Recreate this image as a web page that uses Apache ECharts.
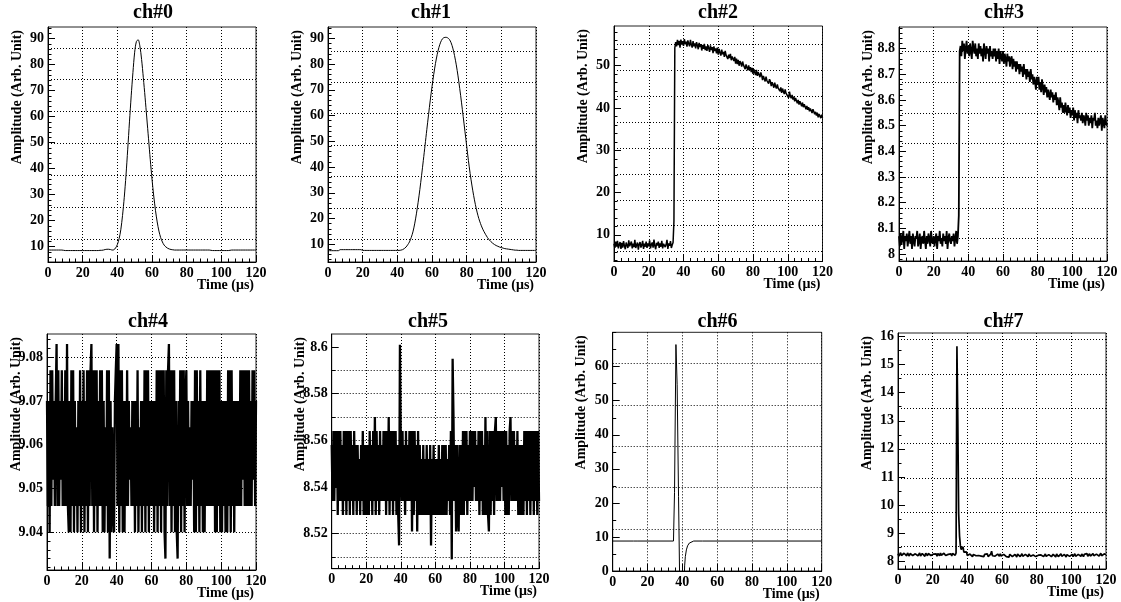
<!DOCTYPE html>
<html>
<head>
<meta charset="utf-8">
<script src="https://cdn.jsdelivr.net/npm/echarts@6.0.0/dist/echarts.min.js"></script>
<style>html,body{margin:0;padding:0;background:#fff}#c{width:1121px;height:602px}</style>
</head>
<body>
<div id="c"></div>
<script>
// ---------------- data ----------------
const titles = ['ch#0', 'ch#1', 'ch#2', 'ch#3', 'ch#4', 'ch#5', 'ch#6', 'ch#7'];
const xName = 'Time (\u03bcs)';
const yName = 'Amplitude (Arb. Unit)';
const xTicks = [0, 20, 40, 60, 80, 100, 120];

// sampling step (us) of the uniformly sampled channels
const timeStep = [1, 1, 0.5, 0.5, 0.5, 0.5, null, 0.5];

const ch0Amp = [
8.7,8.7,8.7,8.7,8.7,8.7,8.7,8.7,8.7,8.6,
8.5,8.5,8.5,8.5,8.5,8.5,8.5,8.5,8.5,8.5,
8.5,8.5,8.5,8.5,8.5,8.5,8.5,8.5,8.5,8.5,
8.6,8.6,8.7,8.9,9.0,9.0,8.9,8.7,8.8,9.5,
10.8,13.0,16.5,22.0,29.0,37.5,47.5,58.0,68.0,77.0,
84.8,88.9,89.6,87.2,82.0,75.0,67.5,59.5,51.5,43.5,
36.0,29.5,24.0,19.5,16.0,13.5,11.8,10.6,9.9,9.4,
9.1,8.9,8.8,8.7,8.7,8.7,8.7,8.7,8.7,8.7,
8.7,8.7,8.7,8.7,8.7,8.7,8.7,8.7,8.7,8.7,
8.7,8.7,8.7,8.7,8.6,8.5,8.5,8.5,8.5,8.5,
8.5,8.5,8.5,8.5,8.5,8.6,8.7,8.7,8.7,8.7,
8.7,8.7,8.7,8.7,8.7,8.7,8.7,8.7,8.7,8.7,8.7];

const ch1Amp = [
7.5,7.5,7.5,7.5,7.5,7.5,7.5,7.9,7.9,7.9,
7.9,7.9,7.9,7.9,7.9,7.9,7.9,7.9,7.9,7.9,
7.6,7.6,7.6,7.6,7.6,7.6,7.6,7.6,7.6,7.6,
7.6,7.6,7.6,7.6,7.6,7.6,7.6,7.6,7.6,7.6,
7.6,7.6,7.7,7.9,8.3,8.9,9.8,10.9,12.6,14.8,
17.9,21.8,26.3,31.3,36.8,42.6,48.5,54.5,60.3,66.0,
71.2,76.0,80.2,83.7,86.5,88.5,89.8,90.3,90.4,90.2,
89.6,88.3,86.2,83.3,79.7,75.4,70.5,65.2,59.6,53.9,
48.2,42.6,37.5,33.0,29.0,25.5,22.5,20.0,18.0,16.3,
14.9,13.7,12.6,11.7,11.0,10.4,9.9,9.5,9.2,8.9,
8.7,8.5,8.3,8.2,8.1,8.0,7.9,7.8,7.7,7.7,
7.6,7.6,7.6,7.6,7.6,7.6,7.6,7.6,7.6,7.6,7.6];

const ch2Amp = [
7.9,6.9,8.4,7.2,8.6,6.8,7.7,8.3,6.7,8.1,
7.0,8.5,7.4,6.6,8.2,7.8,6.9,8.7,7.3,7.5,
8.4,6.8,7.9,7.1,8.8,6.9,7.6,8.2,6.5,7.8,
8.3,7.0,7.6,8.6,6.7,7.9,7.2,8.4,6.9,8.0,
7.3,8.7,6.8,7.7,8.2,7.0,8.9,7.4,6.6,8.1,
7.5,8.4,6.9,8.0,7.2,8.6,6.8,7.9,8.3,7.1,
7.7,8.8,6.7,8.0,7.4,8.5,6.9,7.6,8.2,13.3,
54.2,55.6,54.6,56.1,54.9,55.9,54.3,56.2,55.0,55.8,
54.7,56.3,55.1,55.7,54.5,56.0,55.2,54.6,56.1,55.0,
54.3,55.8,54.6,55.3,54.1,55.6,54.8,53.9,55.4,54.4,
55.1,53.6,54.9,54.0,55.2,53.7,54.6,53.5,54.9,54.2,
53.3,54.8,53.7,54.4,53.0,54.6,53.5,54.1,52.9,54.3,
52.6,54.0,53.1,52.4,53.8,52.7,53.3,52.1,53.5,52.5,
52.9,51.6,52.6,51.8,52.8,51.3,52.2,51.9,51.1,52.1,
50.5,51.7,50.4,51.4,50.0,51.1,50.6,49.8,51.0,50.2,
50.5,49.2,50.3,49.6,48.9,50.1,49.0,49.7,48.5,49.5,
48.1,49.2,48.4,47.8,49.0,47.6,48.5,47.9,47.3,48.4,
47.7,46.6,47.6,46.9,46.3,47.4,46.5,46.9,45.8,46.8,
46.3,45.2,46.1,45.5,44.8,46.0,45.1,44.6,45.6,44.7,
45.0,44.0,44.9,43.6,44.6,43.9,43.3,44.4,43.5,43.8,
43.6,42.4,43.9,42.8,42.3,43.1,42.0,42.7,41.6,42.4,
42.2,41.1,41.9,40.8,41.6,41.0,40.4,41.3,40.2,40.9,
40.8,39.7,40.5,39.6,40.2,39.2,39.9,39.5,38.8,39.7,
39.4,38.5,39.1,38.2,38.9,37.8,38.6,38.1,37.6,38.4,
37.7];

const ch3Amp = [
8.07,8.03,8.08,8.04,8.06,8.09,8.02,8.07,8.05,8.08,
8.03,8.06,8.09,8.04,8.07,8.02,8.08,8.05,8.03,8.07,
8.06,8.09,8.03,8.05,8.08,8.02,8.06,8.07,8.04,8.09,
8.05,8.02,8.07,8.04,8.08,8.06,8.03,8.09,8.05,8.04,
8.07,8.03,8.06,8.08,8.02,8.07,8.05,8.09,8.04,8.06,
8.03,8.08,8.05,8.07,8.04,8.09,8.02,8.06,8.08,8.05,
8.04,8.07,8.05,8.08,8.03,8.06,8.09,8.04,8.07,8.15,
8.79,8.81,8.77,8.83,8.79,8.82,8.76,8.80,8.83,8.78,
8.81,8.77,8.82,8.79,8.76,8.83,8.80,8.78,8.82,8.77,
8.80,8.76,8.82,8.78,8.81,8.77,8.80,8.75,8.82,8.79,
8.76,8.81,8.78,8.80,8.75,8.81,8.77,8.79,8.76,8.80,
8.77,8.80,8.75,8.79,8.76,8.80,8.74,8.79,8.77,8.75,
8.79,8.74,8.78,8.76,8.73,8.78,8.75,8.77,8.73,8.76,
8.77,8.72,8.76,8.73,8.75,8.71,8.75,8.72,8.74,8.70,
8.74,8.71,8.73,8.69,8.74,8.70,8.72,8.68,8.72,8.69,
8.71,8.67,8.72,8.68,8.70,8.66,8.69,8.67,8.64,8.69,
8.66,8.69,8.64,8.67,8.63,8.68,8.65,8.62,8.66,8.63,
8.65,8.61,8.64,8.62,8.60,8.64,8.61,8.63,8.59,8.62,
8.60,8.63,8.58,8.61,8.59,8.56,8.61,8.57,8.59,8.55,
8.58,8.55,8.59,8.56,8.54,8.58,8.55,8.57,8.53,8.56,
8.54,8.57,8.52,8.56,8.53,8.55,8.51,8.56,8.53,8.54,
8.52,8.55,8.51,8.54,8.53,8.50,8.55,8.52,8.54,8.50,
8.53,8.51,8.54,8.49,8.53,8.52,8.55,8.50,8.52,8.49,
8.53,8.50,8.52,8.54,8.48,8.53,8.51,8.49,8.54,8.51,
8.50];

const ch4Amp = [
9.070,9.046,9.070,9.040,9.077,9.046,9.077,9.052,9.070,9.046,
9.070,9.083,9.046,9.077,9.046,9.070,9.052,9.077,9.046,9.070,
9.046,9.077,9.046,9.083,9.046,9.040,9.070,9.040,9.077,9.046,
9.077,9.040,9.070,9.046,9.064,9.040,9.070,9.046,9.077,9.040,
9.070,9.046,9.077,9.040,9.070,9.046,9.077,9.040,9.077,9.046,
9.077,9.083,9.046,9.077,9.040,9.077,9.046,9.077,9.040,9.070,
9.046,9.077,9.046,9.077,9.040,9.070,9.040,9.064,9.046,9.077,
9.040,9.077,9.034,9.070,9.040,9.064,9.046,9.040,9.070,9.077,
9.083,9.046,9.083,9.040,9.077,9.046,9.077,9.040,9.070,9.040,
9.070,9.046,9.077,9.046,9.070,9.052,9.064,9.046,9.070,9.046,
9.070,9.040,9.070,9.046,9.077,9.040,9.064,9.046,9.070,9.040,
9.070,9.046,9.077,9.040,9.077,9.046,9.077,9.040,9.070,9.046,
9.070,9.046,9.070,9.040,9.070,9.046,9.077,9.040,9.077,9.046,
9.077,9.040,9.077,9.046,9.077,9.040,9.034,9.077,9.046,9.077,
9.083,9.046,9.077,9.040,9.077,9.046,9.077,9.040,9.070,9.040,
9.034,9.070,9.046,9.077,9.040,9.077,9.046,9.077,9.040,9.070,
9.077,9.046,9.070,9.046,9.064,9.046,9.070,9.052,9.070,9.040,
9.077,9.040,9.077,9.046,9.070,9.040,9.077,9.046,9.070,9.040,
9.070,9.040,9.070,9.046,9.077,9.046,9.077,9.046,9.077,9.046,
9.077,9.046,9.077,9.040,9.077,9.040,9.077,9.046,9.077,9.040,
9.070,9.040,9.070,9.046,9.070,9.040,9.070,9.040,9.077,9.046,
9.077,9.040,9.077,9.046,9.070,9.040,9.070,9.046,9.070,9.046,
9.070,9.046,9.077,9.046,9.077,9.052,9.077,9.046,9.077,9.046,
9.077,9.046,9.077,9.046,9.070,9.046,9.077,9.052,9.077,9.046,
9.070];

const ch5Amp = [
8.558,8.534,8.564,8.534,8.564,8.540,8.564,8.528,8.564,8.534,
8.564,8.534,8.558,8.528,8.564,8.534,8.564,8.528,8.564,8.534,
8.564,8.528,8.564,8.534,8.558,8.528,8.564,8.534,8.558,8.528,
8.558,8.534,8.552,8.528,8.558,8.534,8.564,8.528,8.558,8.528,
8.558,8.528,8.558,8.528,8.564,8.534,8.558,8.528,8.564,8.534,
8.570,8.528,8.564,8.534,8.558,8.528,8.564,8.534,8.558,8.534,
8.564,8.534,8.564,8.528,8.564,8.534,8.570,8.528,8.564,8.534,
8.564,8.528,8.564,8.534,8.564,8.528,8.558,8.528,8.515,8.601,
8.558,8.534,8.564,8.534,8.558,8.528,8.564,8.534,8.558,8.534,
8.564,8.534,8.564,8.521,8.564,8.528,8.564,8.534,8.558,8.521,
8.564,8.528,8.558,8.528,8.552,8.528,8.558,8.528,8.552,8.528,
8.558,8.528,8.552,8.528,8.558,8.515,8.552,8.528,8.558,8.528,
8.552,8.528,8.552,8.528,8.558,8.528,8.552,8.528,8.558,8.528,
8.558,8.528,8.558,8.528,8.552,8.534,8.558,8.528,8.564,8.509,
8.595,8.570,8.534,8.558,8.521,8.558,8.528,8.521,8.558,8.528,
8.558,8.528,8.564,8.528,8.564,8.534,8.564,8.528,8.558,8.534,
8.564,8.534,8.564,8.534,8.564,8.540,8.564,8.534,8.558,8.534,
8.564,8.528,8.564,8.534,8.564,8.528,8.558,8.528,8.570,8.528,
8.564,8.528,8.521,8.564,8.528,8.564,8.534,8.564,8.528,8.564,
8.570,8.534,8.564,8.534,8.564,8.534,8.564,8.540,8.564,8.534,
8.564,8.528,8.564,8.528,8.558,8.528,8.564,8.570,8.534,8.564,
8.534,8.564,8.534,8.558,8.534,8.564,8.528,8.558,8.528,8.558,
8.528,8.558,8.528,8.564,8.534,8.564,8.528,8.564,8.534,8.564,
8.528,8.564,8.534,8.564,8.528,8.564,8.534,8.564,8.528,8.564,
8.534];

// ch#6 is sampled irregularly: explicit times
const ch6Time = [0, 12, 13, 14, 34.9, 35.4, 35.5, 36.1, 36.3, 36.9, 37.0, 37.6, 37.8, 38.1, 38.5, 41.0, 41.3, 41.7, 42.3, 43.0, 44.0, 45.0, 46.5, 51.5, 52.0, 52.5, 120];
const ch6Amp  = [8.8, 8.8, 8.6, 8.8, 8.8, 9.3, 23.1, 23.1, 66.5, 66.5, 54.7, 54.7, 21.9, 21.9, -5, -5, 1.5, 4.2, 6.2, 7.4, 8.2, 8.6, 8.8, 8.8, 9.1, 8.8, 8.8];

const ch7Amp = [
8.27,8.19,8.25,8.31,8.21,8.27,8.18,8.29,8.22,8.26,
8.20,8.30,8.24,8.19,8.28,8.22,8.31,8.21,8.26,8.18,
8.27,8.22,8.29,8.20,8.26,8.30,8.19,8.25,8.28,8.21,
8.26,8.18,8.29,8.23,8.20,8.28,8.22,8.31,8.21,8.27,
8.19,8.26,8.29,8.21,8.27,8.18,8.28,8.23,8.20,8.30,
8.22,8.27,8.19,8.29,8.24,8.21,8.28,8.20,8.25,8.30,
8.21,8.27,8.19,8.28,8.23,8.29,8.22,8.30,15.65,13.05,
9.70,8.90,8.55,8.42,8.38,8.52,8.33,8.40,8.28,8.34,
8.21,8.28,8.18,8.26,8.20,8.27,8.17,8.25,8.19,8.28,
8.20,8.16,8.26,8.21,8.18,8.27,8.19,8.25,8.21,8.17,
8.25,8.18,8.23,8.27,8.17,8.24,8.19,8.26,8.36,8.20,
8.16,8.25,8.19,8.24,8.17,8.26,8.20,8.18,8.27,8.19,
8.23,8.16,8.25,8.19,8.27,8.17,8.24,8.20,8.15,8.25,
8.19,8.26,8.17,8.23,8.18,8.25,8.20,8.16,8.26,8.19,
8.24,8.17,8.22,8.27,8.18,8.23,8.16,8.25,8.19,8.24,
8.17,8.26,8.20,8.18,8.25,8.15,8.23,8.19,8.26,8.17,
8.24,8.18,8.22,8.27,8.16,8.23,8.19,8.25,8.17,8.22,
8.26,8.18,8.23,8.16,8.24,8.19,8.27,8.17,8.22,8.25,
8.18,8.23,8.16,8.26,8.20,8.17,8.24,8.19,8.27,8.18,
8.23,8.17,8.25,8.19,8.16,8.24,8.20,8.26,8.18,8.23,
8.19,8.25,8.17,8.23,8.27,8.18,8.22,8.16,8.25,8.19,
8.24,8.18,8.26,8.20,8.17,8.25,8.19,8.23,8.28,8.18,
8.23,8.27,8.19,8.25,8.18,8.28,8.20,8.24,8.17,8.26,
8.21,8.28,8.19,8.25,8.29,8.20,8.26,8.18,8.27,8.22,
8.24];

const amps = [ch0Amp, ch1Amp, ch2Amp, ch3Amp, ch4Amp, ch5Amp, ch6Amp, ch7Amp];

// y axis ranges and tick labels
const yMin = [4.1, 3.1, 3.7, 7.973, 9.0314, 8.505, 0, 7.73];
const yMax = [94.5, 94.4, 59.4, 8.884, 9.0853, 8.6056, 70.1, 16.12];
const yMajor = [
  [10, 20, 30, 40, 50, 60, 70, 80, 90],
  [10, 20, 30, 40, 50, 60, 70, 80, 90],
  [10, 20, 30, 40, 50],
  [8, 8.1, 8.2, 8.3, 8.4, 8.5, 8.6, 8.7, 8.8],
  [9.04, 9.05, 9.06, 9.07, 9.08],
  [8.52, 8.54, 8.56, 8.58, 8.6],
  [0, 10, 20, 30, 40, 50, 60],
  [8, 9, 10, 11, 12, 13, 14, 15, 16]
];
const yMinorStep = [2, 2, 2, 0.02, 0.002, 0.01, 5, 0.5];
// horizontal (dotted) grid lines as drawn in the original
const yGrid = [
  [12.8, 25.1, 37.4, 49.7, 62.0, 74.3, 86.5],
  [11.95, 24.1, 36.3, 48.5, 60.7, 72.85, 85.0],
  [6.06, 12.18, 18.3, 24.42, 30.54, 36.66, 42.78, 48.9, 55.02],
  [8.060, 8.181, 8.305, 8.426, 8.547, 8.669, 8.791],
  [9.0341, 9.0402, 9.0463, 9.0523, 9.0584, 9.0645, 9.0706, 9.0767, 9.0828],
  [8.5093, 8.5214, 8.5336, 8.5457, 8.5578, 8.5700, 8.5821, 8.5942],
  [12.2, 24.5, 36.6, 48.8, 61.0],
  [8.536, 9.744, 10.964, 12.209, 13.441, 14.673, 15.905]
];

// ---------------- layout / style ----------------
const frames = [
  [48, 27, 208, 235], [328, 27, 208, 235], [614, 26, 208.5, 235.5], [899, 27, 208, 234],
  [47, 334, 209, 236], [331.7, 334, 207.3, 234.7], [612.7, 332.3, 209, 238.7], [898, 333, 208, 236]
];
const titleX = [153, 431, 718, 1004, 148, 428, 717.5, 1003.5];
const titleY = [3, 3, 3, 3, 312, 312, 312, 312];
const lineW = [1, 1, 1.5, 1.8, 2.3, 2.3, 1, 1.7];
const lineSmooth = [0.3, 0.3, false, false, false, false, false, false];

const FONT = '"Liberation Serif", "DejaVu Serif", serif';
const BLACK = '#000';

function minorTicks(min, max, step) {
  const out = [];
  for (let k = Math.ceil(min / step - 1e-9); k * step <= max + 1e-9; k++) {
    out.push(+(k * step).toFixed(6));
  }
  return out;
}

function seriesData(i) {
  if (i === 6) return ch6Time.map((t, k) => [t, ch6Amp[k]]);
  return amps[i].map((v, k) => [+(k * timeStep[i]).toFixed(3), v]);
}

const option = {
  animation: false,
  backgroundColor: '#fff',
  title: [], grid: [], xAxis: [], yAxis: [], series: []
};

for (let i = 0; i < 8; i++) {
  const [l, t, w, h] = frames[i];
  option.grid.push({
    left: l, top: t, width: w, height: h,
    show: true, borderColor: '#222', borderWidth: 1,
    containLabel: false, outerBoundsMode: 'none'
  });
  option.title.push({
    text: titles[i], left: titleX[i], top: titleY[i], textAlign: 'center', padding: 0,
    textStyle: { fontFamily: FONT, fontWeight: 'bold', fontSize: 20, color: BLACK }
  });
  option.xAxis.push({
    gridIndex: i, type: 'value', min: xTicks[0], max: xTicks[xTicks.length - 1], interval: 20,
    axisLine: { show: true, lineStyle: { color: BLACK, width: 1 } },
    axisTick: { show: true, inside: true, length: 7, lineStyle: { color: BLACK } },
    minorTick: { show: true, splitNumber: 5, length: 3.5, lineStyle: { color: BLACK } },
    axisLabel: { margin: 4, fontFamily: FONT, fontWeight: 'bold', fontSize: 14, color: BLACK },
    splitLine: { show: true, lineStyle: { type: [1, 2], color: BLACK, width: 1 } },
    name: xName, nameLocation: 'end', nameGap: -2, nameMoveOverlap: false,
    nameTextStyle: {
      fontFamily: FONT, fontWeight: 'bold', fontSize: 14, color: BLACK,
      align: 'right', verticalAlign: 'top', padding: [16, 0, 0, 0]
    }
  });
  option.yAxis.push({
    gridIndex: i, type: 'value', min: yMin[i], max: yMax[i], position: 'left',
    axisLine: { show: true, lineStyle: { color: BLACK, width: 1 } },
    axisTick: { show: true, inside: true, length: 7, customValues: yMajor[i], lineStyle: { color: BLACK } },
    axisLabel: { customValues: yMajor[i], margin: 4, fontFamily: FONT, fontWeight: 'bold', fontSize: 14, color: BLACK },
    splitLine: { show: false },
    name: yName, nameLocation: 'end', nameGap: -3, nameRotate: 90, nameMoveOverlap: false,
    nameTextStyle: {
      fontFamily: FONT, fontWeight: 'bold', fontSize: 14, lineHeight: 14, color: BLACK,
      align: 'right', verticalAlign: 'bottom', padding: [0, 0, 24, 0]
    }
  });
  option.yAxis.push({
    gridIndex: i, type: 'value', min: yMin[i], max: yMax[i], position: 'left', offset: 0,
    axisLine: { show: false },
    axisTick: { show: true, inside: true, length: 3.5, customValues: minorTicks(yMin[i], yMax[i], yMinorStep[i]), lineStyle: { color: BLACK } },
    axisLabel: { show: false },
    splitLine: { show: false }
  });
  option.series.push({
    type: 'line', xAxisIndex: i, yAxisIndex: 2 * i,
    data: seriesData(i),
    symbol: 'none', showSymbol: false, clip: true, z: 2,
    smooth: lineSmooth[i],
    lineStyle: { color: BLACK, width: lineW[i] },
    emphasis: { disabled: true },
    markLine: {
      silent: true, z: 1, symbol: ['none', 'none'], animation: false,
      label: { show: false },
      lineStyle: { type: [1, 2], color: BLACK, width: 1 },
      emphasis: { disabled: true },
      data: yGrid[i].map(v => ({ yAxis: v }))
    }
  });
}

const chart = echarts.init(document.getElementById('c'), null, { renderer: 'canvas' });
chart.setOption(option);
</script>
</body>
</html>
